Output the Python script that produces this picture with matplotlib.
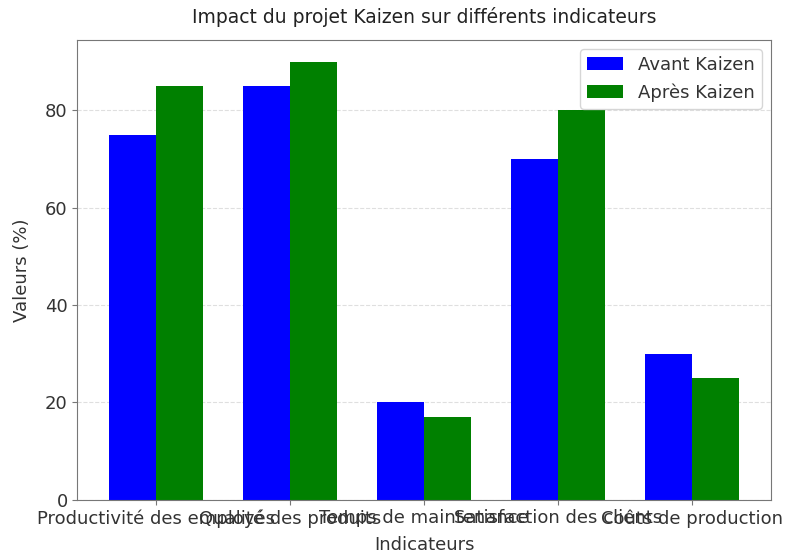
import numpy as np
import matplotlib.pyplot as plt

plt.switch_backend('Agg')
plt.rcParams['font.family'] = ['DejaVu Sans']

indicateurs = ['Productivité des employés', 'Qualité des produits', 'Temps de maintenance',
               'Satisfaction des clients', 'Coûts de production']
avant = [75, 85, 20, 70, 30]
apres = [85, 90, 17, 80, 25]

x = np.arange(len(indicateurs))
largeur = 0.35
gris = '#333333'

fig, ax = plt.subplots(figsize=(7.98, 5.54), dpi=100)
ax.bar(x - largeur / 2, avant, largeur, label='Avant Kaizen', color='blue')
ax.bar(x + largeur / 2, apres, largeur, label='Après Kaizen', color='green')

ax.set_title('Impact du projet Kaizen sur différents indicateurs', fontsize=13.5,
             color='#222222', pad=12)
ax.set_xlabel('Indicateurs', fontsize=13, color=gris, labelpad=6)
ax.set_ylabel('Valeurs (%)', fontsize=13, color=gris, labelpad=10)
ax.set_xticks(x)
ax.set_xticklabels(indicateurs, fontsize=13)
ax.tick_params(axis='y', labelsize=13)
ax.tick_params(colors='#777777', labelcolor=gris, which='both')
for s in ax.spines.values():
    s.set_color('#777777')
ax.yaxis.grid(True, linestyle='--', alpha=0.4)
ax.set_axisbelow(True)
leg = ax.legend(fontsize=13, loc='upper right')
for t in leg.get_texts():
    t.set_color(gris)

plt.subplots_adjust(left=0.097, right=0.966, top=0.928, bottom=0.098)
plt.savefig('out.png')
plt.close()
